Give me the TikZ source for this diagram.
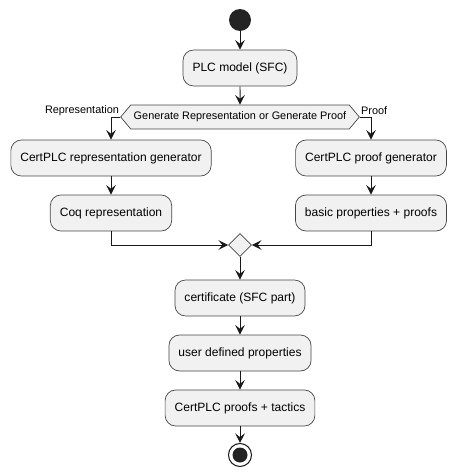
\documentclass[tikz,border=0pt]{standalone}
\usepackage{fontspec}
\setmainfont{Liberation Sans}
\usetikzlibrary{arrows.meta,shapes.geometric,shapes.symbols}
\definecolor{boxfill}{HTML}{F1F1F1}
\definecolor{ink}{HTML}{181818}
\begin{document}
\begin{tikzpicture}[x=0.02cm,y=-0.02cm,
  act/.style={draw=ink!80,fill=boxfill,rounded corners=6pt,line width=0.4pt,minimum height=0.72cm,inner xsep=0.19cm,font=\fontsize{6.85}{8}\selectfont},
  choicebox/.style={shape=signal,signal to=west and east,signal pointer angle=100,draw=ink!80,fill=boxfill,line width=0.4pt,minimum height=0.48cm,inner xsep=0.06cm,inner ysep=0.05cm,font=\fontsize{6.2}{7}\selectfont},
  mergebox/.style={diamond,draw=ink!80,fill=boxfill,line width=0.4pt,minimum size=0.46cm,inner sep=0pt},
  lbl/.style={font=\fontsize{6.2}{7}\selectfont,inner sep=1pt},
  flow/.style={draw=ink,line width=0.55pt,-{Stealth[length=5.5pt,width=5.5pt,inset=2.2pt]}}]
  \useasboundingbox (0,0) rectangle (455,476);
  % start and first activity
  \node[circle,fill=ink!95,minimum size=0.44cm,inner sep=0pt] (start) at (240,20) {};
  \node[act] (plc) at (240,68) {PLC model (SFC)};
  \node[choicebox] (choice) at (240,117) {Generate Representation or Generate Proof};
  \node[lbl,anchor=east] (replbl) at (121,111) {Representation};
  \node[lbl,anchor=west] (prooflbl) at (359,111) {Proof};
  % left branch
  \node[act] (repgen) at (111,158) {CertPLC representation generator};
  \node[act] (coq) at (111,213) {Coq representation};
  % right branch
  \node[act] (proofgen) at (371,158) {CertPLC proof generator};
  \node[act] (basic) at (371,213) {basic properties + proofs};
  % merge and rest
  \node[mergebox] (merge) at (240,245) {};
  \node[act] (cert) at (240,298) {certificate (SFC part)};
  \node[act] (user) at (240,353) {user defined properties};
  \node[act] (tactics) at (240,408) {CertPLC proofs + tactics};
  \node[circle,draw=ink,line width=0.6pt,minimum size=0.46cm,inner sep=0pt] (stop) at (240,455) {};
  \fill[ink!95] (stop) circle (0.15cm);
  % connectors
  \draw[flow] (start) -- (plc);
  \draw[flow] (plc) -- (choice);
  \draw[flow] (choice.west) -| (repgen.north);
  \draw[flow] (choice.east) -| (proofgen.north);
  \draw[flow] (repgen) -- (coq);
  \draw[flow] (proofgen) -- (basic);
  \draw[flow] (coq.south) |- (merge.west);
  \draw[flow] (basic.south) |- (merge.east);
  \draw[flow] (merge) -- (cert);
  \draw[flow] (cert) -- (user);
  \draw[flow] (user) -- (tactics);
  \draw[flow] (tactics) -- (stop);
\end{tikzpicture}
\end{document}
